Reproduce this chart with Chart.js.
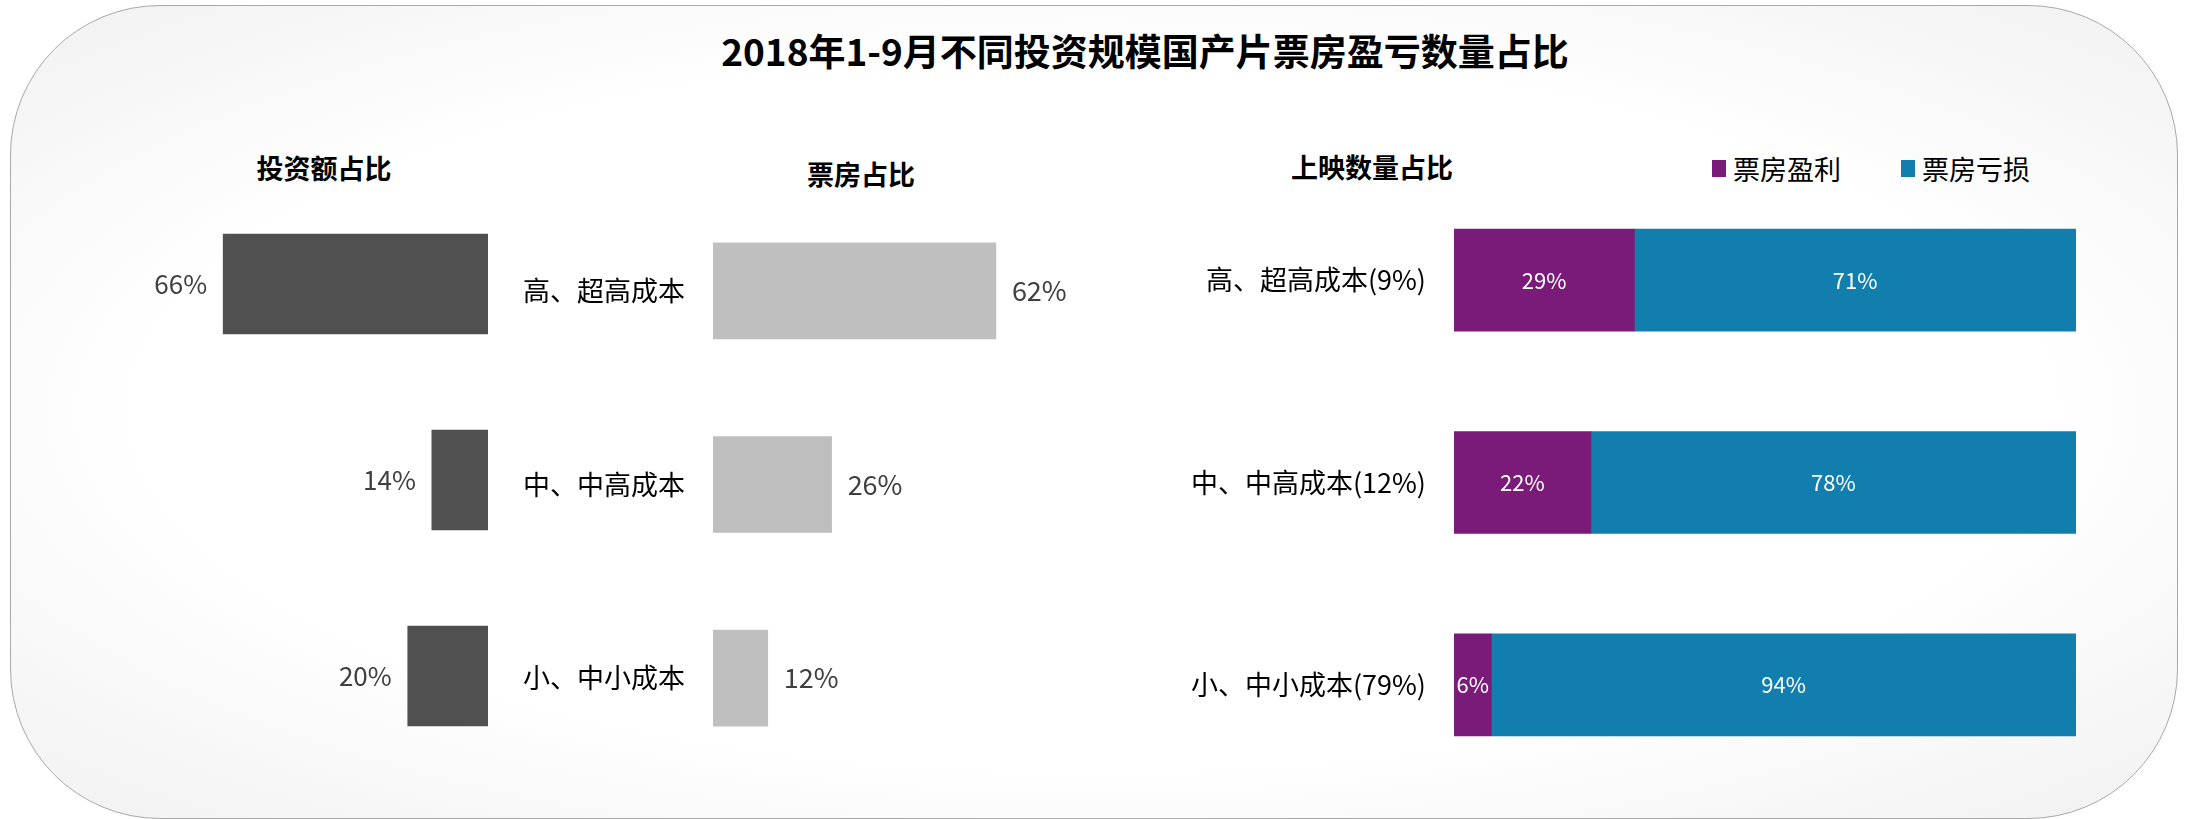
<!DOCTYPE html>
<html>
<head>
<meta charset="utf-8">
<title>2018年1-9月不同投资规模国产片票房盈亏数量占比</title>
<script src="https://cdn.jsdelivr.net/npm/chart.js@4.4.0/dist/chart.umd.min.js"></script>
<style>
  html, body { margin: 0; padding: 0; background: #fff; }
  body {
    width: 2188px; height: 819px; position: relative; overflow: hidden;
    font-family: "Noto Sans CJK SC", "Noto Sans", sans-serif;
  }
  #frame {
    position: absolute; left: 10px; top: 5px; width: 2168px; height: 814px;
    box-sizing: border-box; border: 1px solid #a8a8a8; border-radius: 150px;
    background: radial-gradient(ellipse at 50% 50%, #ffffff 62%, #f1f1f1 100%);
  }
  .title {
    position: absolute; left: 0; top: 32px; width: 2290px; text-align: center;
    font-size: 37px; line-height: 37px; font-weight: bold; color: #000;
  }
  .sub {
    position: absolute; font-size: 27px; line-height: 27px; font-weight: bold;
    color: #000; transform: translateX(-50%); white-space: nowrap;
  }
  .chart { position: absolute; }
  #legend { position: absolute; left: 1712px; top: 155px; display: flex; font-size: 27px; line-height: 27px; color: #000; }
  #legend .item { display: flex; align-items: center; margin-right: 60px; }
  #legend .sw { width: 14px; height: 17px; margin-right: 7px; }
</style>
</head>
<body>
<div id="frame"></div>
<div class="title">2018年1-9月不同投资规模国产片票房盈亏数量占比</div>
<div class="sub" style="left:324px; top:154px;">投资额占比</div>
<div class="sub" style="left:861px; top:160px;">票房占比</div>
<div class="sub" style="left:1372px; top:153px;">上映数量占比</div>
<div id="legend"></div>

<div class="chart" style="left:130px; top:160px; width:380px; height:640px;"><canvas id="investChart"></canvas></div>
<div class="chart" style="left:500px; top:160px; width:620px; height:640px;"><canvas id="boxChart"></canvas></div>
<div class="chart" style="left:1150px; top:150px; width:960px; height:660px;"><canvas id="releaseChart"></canvas></div>

<script>
// categories and values
const categories = ['高、超高成本', '中、中高成本', '小、中小成本'];
const investShare = [66, 14, 20];      // 投资额占比 (%)
const boxOfficeShare = [62, 26, 12];   // 票房占比 (%)
const releaseLabels = ['高、超高成本(9%)', '中、中高成本(12%)', '小、中小成本(79%)'];
const profitShare = [29, 22, 6];       // 票房盈利 (%)
const lossShare = [71, 78, 94];        // 票房亏损 (%)
const seriesNames = ['票房盈利', '票房亏损'];
const seriesColors = ['#7a1b79', '#127ead'];

const FONT = '"Noto Sans CJK SC", "Noto Sans", sans-serif';

// draws the "xx%" labels next to or inside the bars
const valueLabels = {
  id: 'valueLabels',
  afterDatasetsDraw(chart, args, opts) {
    const ctx = chart.ctx;
    ctx.save();
    ctx.font = opts.size + 'px ' + FONT;
    ctx.fillStyle = opts.color;
    ctx.textBaseline = 'middle';
    chart.data.datasets.forEach((ds, i) => {
      chart.getDatasetMeta(i).data.forEach((bar, j) => {
        const text = ds.data[j] + '%';
        if (opts.mode === 'left') {
          ctx.textAlign = 'right';
          ctx.fillText(text, bar.x - opts.offset, bar.y);
        } else if (opts.mode === 'right') {
          ctx.textAlign = 'left';
          ctx.fillText(text, bar.x + opts.offset, bar.y);
        } else {
          ctx.textAlign = 'center';
          ctx.fillText(text, (bar.x + bar.base) / 2, bar.y);
        }
      });
    });
    ctx.restore();
  }
};

Chart.defaults.font.family = FONT;
Chart.defaults.animation = false;

function baseOptions() {
  return {
    indexAxis: 'y',
    responsive: true,
    maintainAspectRatio: false,
    plugins: { legend: { display: false }, tooltip: { enabled: false } }
  };
}

// fixed-width label axis, no extra padding for the first/last label
function labelAxis(width) {
  return {
    grid: { display: false }, border: { display: false },
    ticks: { color: '#000', font: { size: 27 }, padding: 20 },
    afterFit(axis) {
      axis.width = width;
      axis.paddingTop = 0;
      axis.paddingBottom = 0;
    }
  };
}

// 投资额占比 - bars grow to the left
const investOpts = baseOptions();
investOpts.layout = { padding: { left: 37, right: 22, top: 26, bottom: 26 } };
investOpts.scales = {
  x: { display: false, reverse: true, min: 0, max: 80 },
  y: { display: false }
};
investOpts.plugins.valueLabels = { mode: 'left', offset: 16, size: 26, color: '#404040' };
new Chart(document.getElementById('investChart'), {
  type: 'bar',
  data: {
    labels: categories,
    datasets: [{ data: investShare, backgroundColor: '#505050', barThickness: 100 }]
  },
  options: investOpts,
  plugins: [valueLabels]
});

// 票房占比 - category names on its left axis
const boxOpts = baseOptions();
boxOpts.layout = { padding: { left: 0, right: 42, top: 34, bottom: 25 } };
boxOpts.scales = {
  x: { display: false, min: 0, max: 80 },
  y: labelAxis(213)
};
boxOpts.plugins.valueLabels = { mode: 'right', offset: 16, size: 27, color: '#404040' };
new Chart(document.getElementById('boxChart'), {
  type: 'bar',
  data: {
    labels: categories,
    datasets: [{ data: boxOfficeShare, backgroundColor: '#bfbfbf', barThickness: 96 }]
  },
  options: boxOpts,
  plugins: [valueLabels]
});

// 上映数量占比 - 100% stacked
const relOpts = baseOptions();
relOpts.layout = { padding: { left: 0, right: 34, top: 29, bottom: 24 } };
const relY = labelAxis(304);
relY.stacked = true;
relOpts.scales = {
  x: { display: false, stacked: true, min: 0, max: 100 },
  y: relY
};
relOpts.plugins.valueLabels = { mode: 'inside', size: 22, color: '#ffffff' };
new Chart(document.getElementById('releaseChart'), {
  type: 'bar',
  data: {
    labels: releaseLabels,
    datasets: [
      { label: seriesNames[0], data: profitShare, backgroundColor: seriesColors[0], barThickness: 102 },
      { label: seriesNames[1], data: lossShare, backgroundColor: seriesColors[1], barThickness: 102 }
    ]
  },
  options: relOpts,
  plugins: [valueLabels]
});

// legend for the stacked chart
const legend = document.getElementById('legend');
seriesNames.forEach((name, i) => {
  const item = document.createElement('div');
  item.className = 'item';
  item.innerHTML = '<span class="sw" style="background:' + seriesColors[i] + '"></span><span>' + name + '</span>';
  legend.appendChild(item);
});
</script>
</body>
</html>
